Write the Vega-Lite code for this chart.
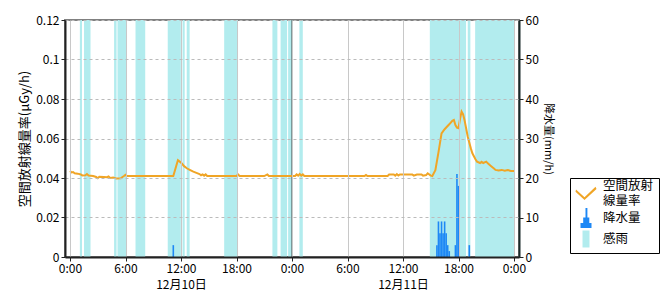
{
  "$schema": "https://vega.github.io/schema/vega-lite/v6.json",
  "width": 454,
  "height": 237,
  "autosize": {"type": "none"},
  "padding": {"left": 65, "top": 20, "right": 151, "bottom": 43},
  "background": "white",
  "config": {
    "font": "Noto Sans CJK JP",
    "view": {"stroke": "#808080", "strokeWidth": 2},
    "axis": {"labelFont": "Noto Sans CJK JP", "titleFont": "Noto Sans CJK JP", "labelColor": "#000", "titleColor": "#000", "titleFontWeight": "normal", "labelFontSize": 12}
  },
  "datasets": {
    "sense": [
      {"h": 1.067, "h2": 1.3},
      {"h": 1.517, "h2": 2.217},
      {"h": 4.767, "h2": 5.033},
      {"h": 5.133, "h2": 6.167},
      {"h": 7.083, "h2": 8.133},
      {"h": 10.567, "h2": 11.983},
      {"h": 12.167, "h2": 12.4},
      {"h": 12.617, "h2": 12.933},
      {"h": 16.667, "h2": 18.167},
      {"h": 21.883, "h2": 22.417},
      {"h": 22.767, "h2": 23.467},
      {"h": 23.583, "h2": 24.1},
      {"h": 24.8, "h2": 25.167},
      {"h": 38.9, "h2": 42.817},
      {"h": 43.0, "h2": 43.283},
      {"h": 43.8, "h2": 48}
    ],
    "midnight": [{"h": 24}],
    "rain": [
      {"h": 11.167, "mm": 3},
      {"h": 39.667, "mm": 3},
      {"h": 39.833, "mm": 9},
      {"h": 40.0, "mm": 6},
      {"h": 40.167, "mm": 9},
      {"h": 40.333, "mm": 6},
      {"h": 40.5, "mm": 9},
      {"h": 40.667, "mm": 6},
      {"h": 40.833, "mm": 3},
      {"h": 41.0, "mm": 1.5},
      {"h": 41.667, "mm": 3},
      {"h": 41.833, "mm": 21},
      {"h": 42.0, "mm": 18},
      {"h": 43.167, "mm": 3}
    ],
    "rate": [
      {"h": 0, "v": 0.0435}, {"h": 0.167, "v": 0.0428}, {"h": 0.333, "v": 0.0430}, {"h": 0.5, "v": 0.0424},
      {"h": 0.833, "v": 0.0422}, {"h": 1.167, "v": 0.0418}, {"h": 1.333, "v": 0.0413}, {"h": 1.667, "v": 0.0414},
      {"h": 1.833, "v": 0.0420}, {"h": 2, "v": 0.0413}, {"h": 2.5, "v": 0.0410}, {"h": 2.833, "v": 0.0405},
      {"h": 3, "v": 0.0399}, {"h": 3.167, "v": 0.0406}, {"h": 3.667, "v": 0.0405}, {"h": 4, "v": 0.0404},
      {"h": 4.167, "v": 0.0408}, {"h": 4.333, "v": 0.0400}, {"h": 4.667, "v": 0.0402}, {"h": 5, "v": 0.0398},
      {"h": 5.5, "v": 0.0399}, {"h": 5.667, "v": 0.0405}, {"h": 5.833, "v": 0.0410}, {"h": 6, "v": 0.0416},
      {"h": 6.167, "v": 0.0410}, {"h": 8, "v": 0.0410}, {"h": 10, "v": 0.0410}, {"h": 11.167, "v": 0.0410},
      {"h": 11.667, "v": 0.0490}, {"h": 12, "v": 0.0478}, {"h": 12.333, "v": 0.0460}, {"h": 12.667, "v": 0.0448},
      {"h": 13, "v": 0.0440}, {"h": 13.333, "v": 0.0432}, {"h": 13.667, "v": 0.0426}, {"h": 14, "v": 0.0420},
      {"h": 14.167, "v": 0.0414}, {"h": 14.333, "v": 0.0418}, {"h": 14.5, "v": 0.0412}, {"h": 14.667, "v": 0.0418},
      {"h": 14.833, "v": 0.0410}, {"h": 16, "v": 0.0410}, {"h": 18, "v": 0.0410}, {"h": 18.167, "v": 0.0418},
      {"h": 18.333, "v": 0.0410}, {"h": 21, "v": 0.0410}, {"h": 21.333, "v": 0.0418}, {"h": 21.5, "v": 0.0410},
      {"h": 23.667, "v": 0.0410}, {"h": 24.333, "v": 0.0410}, {"h": 24.5, "v": 0.0418}, {"h": 24.667, "v": 0.0412},
      {"h": 24.833, "v": 0.0420}, {"h": 25, "v": 0.0412}, {"h": 25.167, "v": 0.0418}, {"h": 25.333, "v": 0.0410},
      {"h": 31.833, "v": 0.0410}, {"h": 32, "v": 0.0415}, {"h": 32.167, "v": 0.0410}, {"h": 34.333, "v": 0.0410},
      {"h": 34.5, "v": 0.0418}, {"h": 35, "v": 0.0418}, {"h": 35.167, "v": 0.0412}, {"h": 35.333, "v": 0.0420},
      {"h": 35.5, "v": 0.0413}, {"h": 35.667, "v": 0.0418}, {"h": 36.5, "v": 0.0418}, {"h": 37, "v": 0.0418},
      {"h": 37.167, "v": 0.0412}, {"h": 37.5, "v": 0.0418}, {"h": 38, "v": 0.0418}, {"h": 38.167, "v": 0.0412},
      {"h": 38.5, "v": 0.0415}, {"h": 38.667, "v": 0.0424}, {"h": 39, "v": 0.0412}, {"h": 39.167, "v": 0.0410},
      {"h": 39.5, "v": 0.0440}, {"h": 39.833, "v": 0.0530}, {"h": 40.167, "v": 0.0626}, {"h": 40.5, "v": 0.0647},
      {"h": 41, "v": 0.0672}, {"h": 41.333, "v": 0.0690}, {"h": 41.5, "v": 0.0694}, {"h": 41.667, "v": 0.0668},
      {"h": 41.833, "v": 0.0655}, {"h": 42, "v": 0.0652}, {"h": 42.167, "v": 0.0700}, {"h": 42.333, "v": 0.0736},
      {"h": 42.5, "v": 0.0722}, {"h": 42.667, "v": 0.0690}, {"h": 43, "v": 0.0609}, {"h": 43.333, "v": 0.0550},
      {"h": 43.5, "v": 0.0525}, {"h": 43.833, "v": 0.0495}, {"h": 44, "v": 0.0483}, {"h": 44.333, "v": 0.0476},
      {"h": 44.5, "v": 0.0482}, {"h": 44.667, "v": 0.0476}, {"h": 45, "v": 0.0483}, {"h": 45.167, "v": 0.0474},
      {"h": 45.5, "v": 0.0461}, {"h": 45.833, "v": 0.0448}, {"h": 46, "v": 0.0441}, {"h": 46.333, "v": 0.0438},
      {"h": 46.667, "v": 0.0441}, {"h": 47, "v": 0.0437}, {"h": 47.333, "v": 0.0440}, {"h": 47.667, "v": 0.0436},
      {"h": 48, "v": 0.0436}
    ]
  },
  "layer": [
    {
      "data": {"name": "sense"},
      "mark": {"type": "rect", "color": "#b2ecee"},
      "encoding": {
        "x": {
          "field": "h",
          "type": "quantitative",
          "scale": {"domain": [0, 48], "nice": false, "zero": false},
          "axis": {
            "title": null,
            "orient": "bottom",
            "values": [0, 6, 12, 18, 24, 30, 36, 42, 48],
            "labelExpr": "(datum.value % 24) + ':00'",
            "labelOverlap": false,
            "labelFlush": false,
            "labelPadding": 2,
            "domainColor": "#222",
            "domainWidth": 2,
            "tickColor": "#222",
            "tickSize": 4,
            "grid": true,
            "gridColor": "#c8c8c8",
            "gridWidth": 1,
            "zindex": 1
          }
        },
        "x2": {"field": "h2"}
      }
    },
    {
      "data": {"name": "midnight"},
      "mark": {"type": "rule", "color": "#444", "strokeWidth": 1},
      "encoding": {
        "x": {
          "field": "h",
          "type": "quantitative",
          "axis": {
            "title": null,
            "orient": "bottom",
            "values": [12, 36],
            "labelExpr": "datum.value == 12 ? '12月10日' : '12月11日'",
            "labelOverlap": false,
            "labelFlush": false,
            "labelPadding": 22,
            "domain": false,
            "ticks": false,
            "grid": false
          }
        }
      }
    },
    {
      "data": {"name": "rate"},
      "mark": {"type": "line", "color": "#f0a526", "strokeWidth": 2},
      "encoding": {
        "x": {"field": "h", "type": "quantitative", "axis": null},
        "y": {
          "field": "v",
          "type": "quantitative",
          "scale": {"domain": [0, 0.12], "nice": false},
          "axis": {
            "orient": "left",
            "title": "空間放射線量率(μGy/h)",
            "titleFontSize": 13,
            "values": [0, 0.02, 0.04, 0.06, 0.08, 0.1, 0.12],
            "format": ".2~f",
            "grid": true,
            "gridDash": [3, 3],
            "gridColor": "#bbbbbb",
            "domainColor": "#222",
            "domainWidth": 2,
            "tickColor": "#222",
            "tickSize": 4,
            "labelPadding": 2,
            "zindex": 1
          }
        }
      }
    },
    {
      "data": {"name": "rain"},
      "mark": {"type": "bar", "color": "#1e88f5", "width": 1.6},
      "encoding": {
        "x": {"field": "h", "type": "quantitative", "axis": null},
        "y": {
          "field": "mm",
          "type": "quantitative",
          "scale": {"domain": [0, 60], "nice": false},
          "axis": {
            "orient": "right",
            "title": "降水量(mm/h)",
            "titleAngle": 90,
            "titleFontSize": 11,
            "values": [0, 10, 20, 30, 40, 50, 60],
            "grid": false,
            "domainColor": "#1a2a2a",
            "domainWidth": 2,
            "tickColor": "#222",
            "tickSize": 4,
            "labelPadding": 2
          }
        }
      }
    },
    {
      "data": {"values": [{"s": "空間放射線量率"}, {"s": "降水量"}, {"s": "感雨"}]},
      "mark": {"type": "point", "filled": true, "opacity": 0},
      "encoding": {
        "color": {
          "field": "s",
          "type": "nominal",
          "scale": {"domain": ["空間放射線量率", "降水量", "感雨"], "range": ["#f0a526", "#1e88f5", "#b2ecee"]},
          "legend": {
            "title": null,
            "orient": "none",
            "legendX": 505,
            "legendY": 158,
            "padding": 5,
            "strokeColor": "#000",
            "fillColor": "#fff",
            "labelFont": "Noto Sans CJK JP",
            "labelFontSize": 12.5,
            "labelColor": "#000",
            "labelExpr": "datum.label == '空間放射線量率' ? ['空間放射', '線量率'] : datum.label",
            "symbolSize": 400,
            "rowPadding": 0,
            "labelOffset": 6,
            "encode": {
              "symbols": {"update": {"opacity": {"value": 1}}},
              "labels": {"update": {"lineHeight": {"value": 14.5}, "dy": {"signal": "datum.value == '空間放射線量率' ? -8 : 0"}}}
            }
          }
        },
        "shape": {
          "field": "s",
          "type": "nominal",
          "scale": {
            "domain": ["空間放射線量率", "降水量", "感雨"],
            "range": [
              "M-1,-0.45 L-0.15,0.32 L0.95,-0.72 L1.05,-0.5 L-0.15,0.6 L-1.05,-0.22 Z",
              "M-0.55,1 L-0.55,0.5 L-0.28,0.5 L-0.28,-0.05 L-0.05,-0.05 L-0.05,-1 L0.14,-1 L0.14,-0.05 L0.33,-0.05 L0.33,0.5 L0.55,0.5 L0.55,1 Z",
              "M-0.35,-0.85 L0.35,-0.85 L0.35,0.85 L-0.35,0.85 Z"
            ]
          },
          "legend": {
            "title": null,
            "orient": "none",
            "legendX": 505,
            "legendY": 158,
            "padding": 5,
            "strokeColor": "#000",
            "fillColor": "#fff",
            "labelFont": "Noto Sans CJK JP",
            "labelFontSize": 12.5,
            "labelColor": "#000",
            "labelExpr": "datum.label == '空間放射線量率' ? ['空間放射', '線量率'] : datum.label",
            "symbolSize": 400,
            "rowPadding": 0,
            "labelOffset": 6,
            "encode": {
              "symbols": {"update": {"opacity": {"value": 1}}},
              "labels": {"update": {"lineHeight": {"value": 14.5}, "dy": {"signal": "datum.value == '空間放射線量率' ? -8 : 0"}}}
            }
          }
        }
      }
    }
  ],
  "resolve": {"scale": {"y": "independent"}, "axis": {"x": "independent"}}
}
